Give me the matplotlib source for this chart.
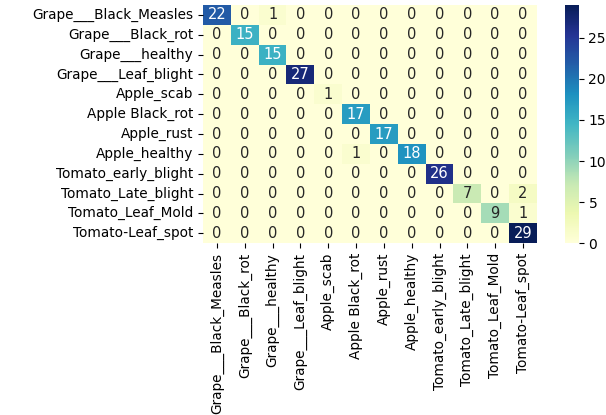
import numpy as np
import matplotlib
matplotlib.use("Agg")
import matplotlib.pyplot as plt
import seaborn as sns

classes = ["Grape___Black_Measles", "Grape___Black_rot", "Grape___healthy",
           "Grape___Leaf_blight", "Apple_scab", "Apple Black_rot", "Apple_rust",
           "Apple_healthy", "Tomato_early_blight", "Tomato_Late_blight",
           "Tomato_Leaf_Mold", "Tomato-Leaf_spot"]

cm = np.array([
    [22, 0, 1, 0, 0, 0, 0, 0, 0, 0, 0, 0],
    [0, 15, 0, 0, 0, 0, 0, 0, 0, 0, 0, 0],
    [0, 0, 15, 0, 0, 0, 0, 0, 0, 0, 0, 0],
    [0, 0, 0, 27, 0, 0, 0, 0, 0, 0, 0, 0],
    [0, 0, 0, 0, 1, 0, 0, 0, 0, 0, 0, 0],
    [0, 0, 0, 0, 0, 17, 0, 0, 0, 0, 0, 0],
    [0, 0, 0, 0, 0, 0, 17, 0, 0, 0, 0, 0],
    [0, 0, 0, 0, 0, 1, 0, 18, 0, 0, 0, 0],
    [0, 0, 0, 0, 0, 0, 0, 0, 26, 0, 0, 0],
    [0, 0, 0, 0, 0, 0, 0, 0, 0, 7, 0, 2],
    [0, 0, 0, 0, 0, 0, 0, 0, 0, 0, 9, 1],
    [0, 0, 0, 0, 0, 0, 0, 0, 0, 0, 0, 29],
])

fig = plt.figure(figsize=(6.06, 4.15), dpi=100)
ax = fig.add_axes([0.335, 0.414, 0.551, 0.574])
cax = fig.add_axes([0.932, 0.414, 0.023, 0.574])

sns.heatmap(cm, annot=True, fmt="d", cmap="YlGnBu", ax=ax, cbar_ax=cax,
            xticklabels=classes, yticklabels=classes,
            annot_kws={"size": 10.5})
ax.tick_params(labelsize=9.8)
plt.setp(ax.get_xticklabels(), rotation=90)
plt.setp(ax.get_yticklabels(), rotation=0)
cax.tick_params(labelsize=10)

fig.savefig("out.png", dpi=100)
